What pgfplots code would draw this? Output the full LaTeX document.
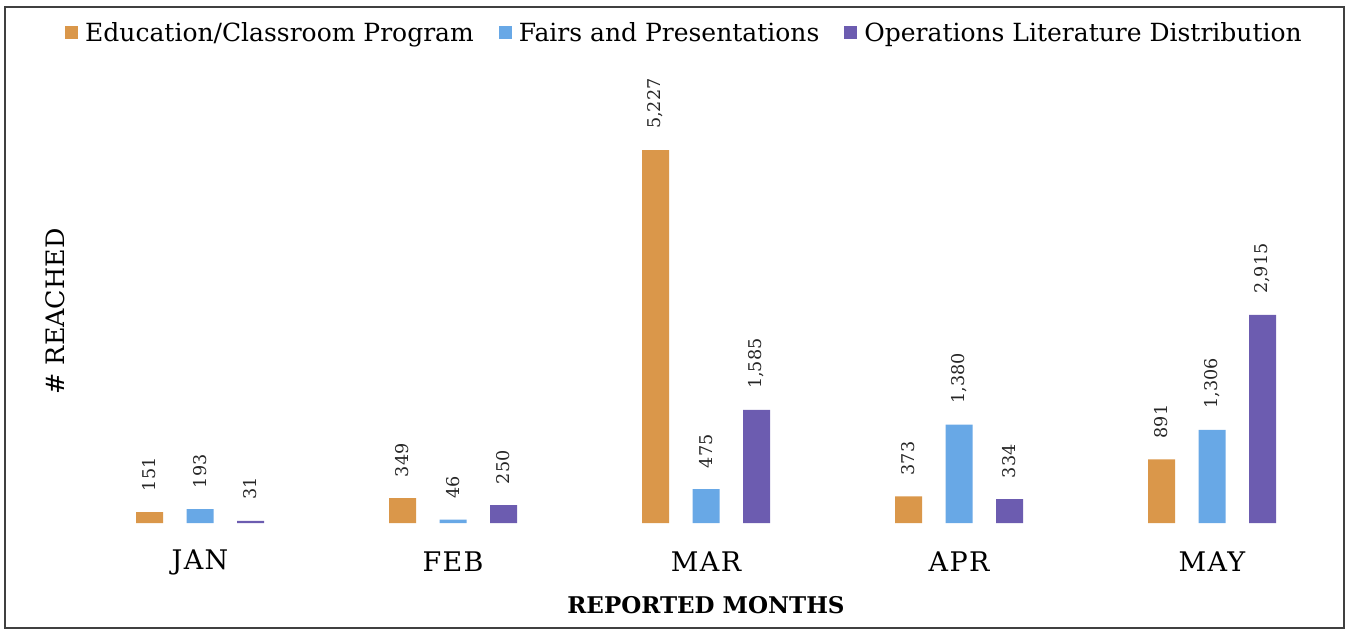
\documentclass[border=0pt]{standalone}
\usepackage{pgfplots}
\pgfplotsset{compat=1.18}
\usepackage{fontspec}
\setmainfont{DejaVu Serif}
\definecolor{cEdu}{RGB}{218,151,74}
\definecolor{cFair}{RGB}{104,168,230}
\definecolor{cOps}{RGB}{108,92,176}
\begin{document}
\begin{tikzpicture}
\useasboundingbox (0,0) rectangle (675pt,316.5pt);
\draw[line width=1.1pt, black!75] (2.5pt,2.5pt) rectangle (672pt,313pt);
\begin{axis}[
  at={(36.75pt,55pt)}, anchor=south west,
  scale only axis, width=632.5pt, height=225pt,
  xmin=-0.5, xmax=4.5, ymin=0, ymax=6306,
  axis line style={draw=none},
  ytick=\empty,
  xtick=data,
  xticklabels={JAN,FEB,MAR,APR,MAY},
  major tick length=0pt,
  xticklabel style={anchor=center, yshift=-19.5pt, font=\fontsize{13.5}{16}\selectfont\addfontfeatures{LetterSpace=5}},
  xlabel={REPORTED MONTHS},
  xlabel style={at={(axis description cs:0.5,0)}, anchor=center, yshift=-41pt, font=\fontsize{11.5}{14}\selectfont\bfseries},
  ylabel={\# REACHED},
  ylabel style={at={(axis description cs:-0.0146,0.47)}, anchor=center, font=\fontsize{12.7}{15}\selectfont},
  ybar=11.75pt, bar width=13.5pt,
  nodes near coords,
  every node near coord/.append style={yshift=7pt, rotate=90, anchor=west, font=\fontsize{8.8}{10}\selectfont, text=black!85},
  /pgf/number format/.cd, 1000 sep={,}, assume math mode=true, /pgfplots/.cd,
  legend columns=3,
  legend style={at={(axis description cs:0.5,1)}, anchor=center, xshift=-9.5pt, yshift=20pt, draw=none, fill=none, font=\fontsize{12.5}{15}\selectfont, /tikz/every even column/.append style={column sep=9pt}, nodes={inner xsep=3.5pt}},
  legend image code/.code={\fill[#1] (0pt,-3pt) rectangle (6.5pt,3.5pt);},
]
\addplot[fill=cEdu, draw=none] coordinates {(0,151) (1,349) (2,5227) (3,373) (4,891)};
\addplot[fill=cFair, draw=none] coordinates {(0,193) (1,46) (2,475) (3,1380) (4,1306)};
\addplot[fill=cOps, draw=none] coordinates {(0,31) (1,250) (2,1585) (3,334) (4,2915)};
\legend{Education/Classroom Program, Fairs and Presentations, Operations Literature Distribution}
\end{axis}
\end{tikzpicture}
\end{document}
